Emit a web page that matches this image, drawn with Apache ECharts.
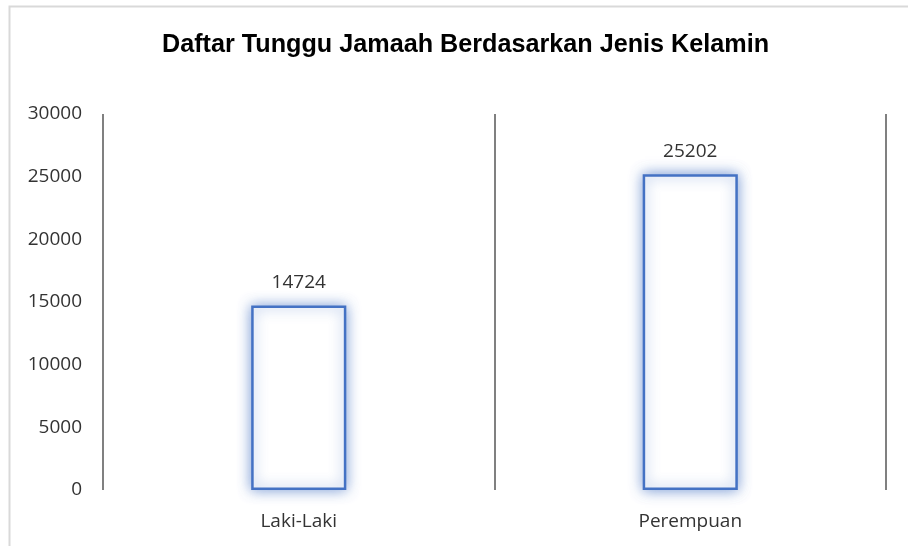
<!DOCTYPE html>
<html><head><meta charset="utf-8">
<script src="https://cdn.jsdelivr.net/npm/echarts@6/dist/echarts.min.js"></script>
<style>html,body{margin:0;padding:0;background:#fff}#c{width:908px;height:546px}</style>
</head><body><div id="c"></div>
<script>
const titleText = 'Daftar Tunggu Jamaah Berdasarkan Jenis Kelamin';
const categories = ['Laki-Laki', 'Perempuan'];
const values = [14724, 25202];
const yMin = 0, yMax = 30000, yInterval = 5000;

const chart = echarts.init(document.getElementById('c'), null, {renderer: 'canvas'});
chart.setOption({
  animation: false,
  backgroundColor: '#fff',
  title: {
    text: titleText, left: 157, top: 28,
    textStyle: {fontFamily: 'Liberation Sans', fontWeight: 'bold', fontSize: 25.2, color: '#000'}
  },
  graphic: [{
    type: 'rect', left: 7, top: 4, shape: {width: 920, height: 560},
    style: {fill: 'none', stroke: '#d9d9d9', lineWidth: 2}, silent: true
  }],
  grid: {left: 103, right: 22, top: 114, bottom: 56},
  xAxis: {
    type: 'category', data: categories, boundaryGap: true,
    axisLine: {show: false}, axisTick: {show: false},
    axisLabel: {fontFamily: 'Open Sans', fontSize: 19, color: '#333', margin: 22},
    splitLine: {show: true, interval: 0, lineStyle: {color: '#808080', width: 2}}
  },
  yAxis: {
    type: 'value', min: yMin, max: yMax, interval: yInterval,
    axisLine: {show: false}, axisTick: {show: false}, splitLine: {show: false},
    axisLabel: {fontFamily: 'Open Sans', fontSize: 19, color: '#333', margin: 21,
      formatter: v => String(v)}
  },
  series: [{
    type: 'bar', data: values, barWidth: '24.3%',
    itemStyle: {color: '#fff', borderColor: '#4472C4', borderWidth: 2.5,
      shadowBlur: 13, shadowColor: 'rgba(68,114,196,0.7)'},
    label: {show: true, position: 'top', distance: 13, fontFamily: 'Open Sans', fontSize: 19, color: '#333'}
  }]
});
</script></body></html>
